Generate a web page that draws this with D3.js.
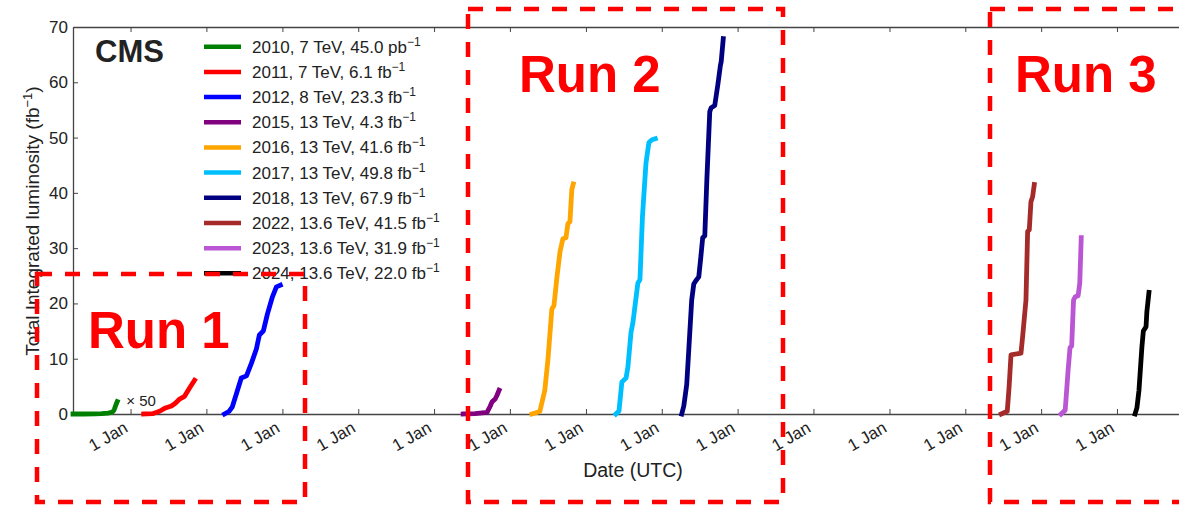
<!DOCTYPE html>
<html>
<head>
<meta charset="utf-8">
<script src="https://cdn.jsdelivr.net/npm/d3@7"></script>
<style>
  body { margin: 0; background: #fff; }
  svg { display: block; }
  text { font-family: "Liberation Sans", Arial, Helvetica, sans-serif; fill: #222; }
</style>
</head>
<body>
<svg id="chart" width="1179" height="507"></svg>
<script>
// Cumulative delivered luminosity per data-taking year: [date, value]
// 2010 is in pb^-1 and is drawn scaled by x50 (in fb^-1 units); all others in fb^-1.
const lumi2010 = [["2010-03-30",0],["2010-05-20",0.01],["2010-07-15",0.3],["2010-08-15",1.5],["2010-09-15",3.5],["2010-10-01",6],["2010-10-10",10],["2010-10-15",17],["2010-10-20",28],["2010-10-24",36],["2010-10-29",45.0]];
const lumi2011 = [["2011-03-05",0],["2011-04-17",0.05],["2011-05-21",0.5],["2011-06-18",1.1],["2011-07-17",1.45],["2011-08-06",2.0],["2011-08-25",2.7],["2011-09-18",3.2],["2011-10-12",4.7],["2011-11-05",6.1]];
const lumi2012 = [["2012-03-28",0],["2012-04-20",0.5],["2012-05-05",1.3],["2012-05-29",4.2],["2012-06-17",6.5],["2012-07-12",6.9],["2012-08-05",9.2],["2012-08-29",11.8],["2012-09-12",14.3],["2012-10-01",15.0],["2012-10-21",18.1],["2012-11-14",21.2],["2012-12-03",23.0],["2012-12-22",23.3]];
const lumi2015 = [["2015-05-21",0],["2015-07-17",0.05],["2015-09-13",0.3],["2015-09-28",1.4],["2015-10-07",2.2],["2015-10-22",2.7],["2015-10-31",3.4],["2015-11-10",4.3]];
const lumi2016 = [["2016-04-16",0],["2016-05-24",0.45],["2016-06-17",4.3],["2016-07-02",9.8],["2016-07-21",19.0],["2016-07-31",19.6],["2016-08-14",24.6],["2016-08-29",29.3],["2016-09-12",31.7],["2016-09-27",31.9],["2016-10-06",34.4],["2016-10-16",34.8],["2016-10-25",40.6],["2016-11-01",41.6]];
const lumi2017 = [["2017-05-25",0],["2017-06-09",0.55],["2017-06-23",5.8],["2017-07-13",6.5],["2017-07-22",8.5],["2017-08-06",14.8],["2017-08-15",16.5],["2017-09-04",22.5],["2017-09-08",23.7],["2017-09-18",24.3],["2017-09-30",35.7],["2017-10-17",45.4],["2017-10-31",49.1],["2017-11-15",49.6],["2017-12-01",49.8]];
const lumi2018 = [["2018-04-07",0],["2018-04-17",1.45],["2018-05-01",5.3],["2018-05-11",11.6],["2018-05-25",20.6],["2018-06-04",23.5],["2018-06-14",24.1],["2018-06-28",24.8],["2018-07-08",28.4],["2018-07-17",31.9],["2018-07-27",32.2],["2018-08-06",42.4],["2018-08-20",54.7],["2018-08-27",55.4],["2018-09-13",55.8],["2018-09-28",59.6],["2018-10-10",63.0],["2018-10-14",63.7],["2018-10-24",67.9]];
const lumi2022 = [["2022-06-23",0],["2022-07-22",0.5],["2022-07-31",5.0],["2022-08-09",10.7],["2022-09-26",11.0],["2022-10-04",14.0],["2022-10-20",20.6],["2022-10-28",33.0],["2022-11-05",33.3],["2022-11-13",38.4],["2022-11-21",39.3],["2022-11-29",41.5]];
const lumi2023 = [["2023-04-07",0],["2023-04-27",0.7],["2023-05-11",8.0],["2023-05-20",12.0],["2023-05-28",12.3],["2023-06-06",20.6],["2023-06-14",21.2],["2023-06-28",21.4],["2023-07-06",23.7],["2023-07-13",31.9]];
const lumi2024 = [["2024-03-28",0],["2024-04-06",1.1],["2024-04-16",4.3],["2024-04-30",12.1],["2024-05-07",15.0],["2024-05-20",15.8],["2024-05-24",18.5],["2024-06-03",22.0]];

const years    = ["2010","2011","2012","2015","2016","2017","2018","2022","2023","2024"];
const energies = ["7","7","8","13","13","13","13","13.6","13.6","13.6"];
const totals   = ["45.0","6.1","23.3","4.3","41.6","49.8","67.9","41.5","31.9","22.0"];
const units    = ["pb","fb","fb","fb","fb","fb","fb","fb","fb","fb"];
const seriesData = [lumi2010,lumi2011,lumi2012,lumi2015,lumi2016,lumi2017,lumi2018,lumi2022,lumi2023,lumi2024];
const seriesColors = ["#008000","#ff0000","#0000ff","#800080","#ffa500","#00bfff","#000080","#a52a2a","#ba55d3","#000000"];
const scale2010 = 50;          // 2010 curve magnified x50
const yTicks = [0,10,20,30,40,50,60,70];
const runLabels = ["Run 1","Run 2","Run 3"];

const svg = d3.select("#chart");
svg.append("rect").attr("width",1179).attr("height",507).attr("fill","#fff");

const x = d3.scaleUtc()
  .domain([new Date("2010-03-30"), new Date("2025-01-01")])
  .range([73, 1193]);
const y = d3.scaleLinear().domain([0,70]).range([414,27]);

const axisColor = "#444";
const xTickDates = d3.utcYears(new Date("2011-01-01"), new Date("2025-01-01"));

// bottom axis with rotated "1 Jan" labels
const gx = svg.append("g").attr("transform","translate(0,414)")
  .call(d3.axisBottom(x).tickValues(xTickDates).tickFormat(d3.utcFormat("%-d %b"))
        .tickSizeInner(-5).tickSizeOuter(0));
gx.selectAll("text")
  .attr("x",0).attr("y",0).attr("dy",0)
  .attr("text-anchor","end")
  .attr("transform","translate(-2,17) rotate(-30)")
  .attr("font-size",17).attr("fill","#222");

// top spine with inward ticks
const gt = svg.append("g").attr("transform","translate(0,27)")
  .call(d3.axisTop(x).tickValues(xTickDates).tickFormat("").tickSizeInner(-5).tickSizeOuter(0));

// left axis
const gy = svg.append("g").attr("transform","translate(73,0)")
  .call(d3.axisLeft(y).tickValues(yTicks).tickSizeInner(-5).tickSizeOuter(0).tickPadding(5));
gy.selectAll("text").attr("font-size",17).attr("fill","#222");

[gx,gt,gy].forEach(g => {
  g.select(".domain").attr("stroke",axisColor).attr("stroke-width",1.3);
  g.selectAll(".tick line").attr("stroke",axisColor).attr("stroke-width",1);
  g.attr("font-family",null);
});

// axis titles
const yl = svg.append("text")
  .attr("transform","translate(39,221) rotate(-90)")
  .attr("text-anchor","middle").attr("font-size",19);
yl.append("tspan").text("Total Integrated luminosity (fb");
yl.append("tspan").attr("dy",-7).attr("font-size",13).text("\u22121");
yl.append("tspan").attr("dy",7).text(")");

svg.append("text").attr("x",633).attr("y",477).attr("text-anchor","middle")
  .attr("font-size",19.5).text("Date (UTC)");

// luminosity curves
const line = d3.line()
  .x(d => x(new Date(d[0])))
  .y(d => y(d[1]));
seriesData.forEach((s,i) => {
  const pts = i === 0 ? s.map(d => [d[0], d[1] / 1000 * scale2010]) : s;
  svg.append("path").datum(pts)
    .attr("d", line)
    .attr("fill","none")
    .attr("stroke", seriesColors[i])
    .attr("stroke-width", 4.8)
    .attr("stroke-linejoin","round")
    .attr("stroke-linecap","square");
});

// x50 note next to the 2010 curve
const last2010 = lumi2010[lumi2010.length-1];
svg.append("text")
  .attr("x", x(new Date(last2010[0])) + 9)
  .attr("y", 406)
  .attr("font-size",15).attr("fill","#444")
  .text("\u00d7 " + scale2010);

// legend
const legend = svg.append("g");
years.forEach((yr,i) => {
  const cy = 46.7 + i*25.18;
  legend.append("line").attr("x1",204).attr("x2",241).attr("y1",cy).attr("y2",cy)
    .attr("stroke",seriesColors[i]).attr("stroke-width",4.5);
  const t = legend.append("text").attr("x",252).attr("y",cy+6).attr("font-size",17);
  t.append("tspan").text(`${yr}, ${energies[i]} TeV, ${totals[i]} ${units[i]}`);
  t.append("tspan").attr("dy",-7).attr("font-size",12).text("\u22121");
});

// experiment tag
svg.append("text").attr("x",95).attr("y",62).attr("font-size",31)
  .attr("font-weight","bold").attr("fill","#111").text("CMS");

// run period boxes
const boxes = [
  {x:37,  y:274, w:268, h:228, tx:88,   ty:348},
  {x:468, y:9,   w:315, h:493, tx:519,  ty:92},
  {x:990, y:9,   w:230, h:493, tx:1015, ty:92}
];
boxes.forEach((b,i) => {
  svg.append("rect").attr("x",b.x).attr("y",b.y).attr("width",b.w).attr("height",b.h)
    .attr("fill","none").attr("stroke","#ff0000").attr("stroke-width",4.5)
    .attr("stroke-dasharray","15,13");
  svg.append("text").attr("x",b.tx).attr("y",b.ty).attr("font-size",51)
    .attr("font-weight","bold").style("fill","#ff0000").text(runLabels[i]);
});
</script>
</body>
</html>
